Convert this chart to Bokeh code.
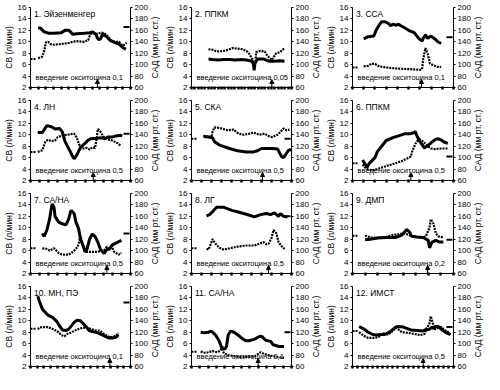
import math
from bokeh.plotting import figure
from bokeh.layouts import column, row
from bokeh.models import Range1d, LinearAxis, FixedTicker, Label, Arrow, NormalHead
from bokeh.embed import file_html
from bokeh.resources import INLINE

FONT = "Liberation Sans"

titles = ["1. Эйзенменгер", "2. ППКМ", "3. ССА", "4. ЛН", "5. СКА", "6. ППКМ",
          "7. СА/НА", "8. ЛГ", "9. ДМП", "10. МН, ПЭ", "11. СА/НА", "12. ИМСТ"]
doses = ["0,1", "0,05", "0,1", "0,5", "0,5", "0,5", "0,5", "0,5", "0,2", "0,1", "0,1", "0,5"]
t_max = [13, 30, 9, 11, 10, 9, 11, 10, 8, 15, 12, 20]
t_inj = [8.7, 24.1, 6.15, 6.9, 7.1, 5.2, 8.4, 7.7, 5.95, 11.9, 8.0, 14.0]
cv_base = [7.0, None, 5.5, 7.0, 9.3, 5.0, 6.4, 6.4, 8.6, 8.6, 4.6, 8.2]
sad_base = [166, None, 148, 142, 133, 102, 130, 160, 119, 172, 120, 129]

cv_ticks = [2, 4, 6, 8, 10, 12, 14, 16]
sad_ticks = [60, 80, 100, 120, 140, 160, 180, 200]

# Panel 1
t_sad_1 = [1.0,1.3,1.7,2.3,3.0,4.0,4.5,5.0,5.5,6.0,7.0,7.7,8.1,8.5,8.8,9.1,9.4,9.8,10.3,10.9,11.5,12.0,12.4]
sad_1 = [164,164,158,155,155,156,160,160,153,154,155,156,157,153,144,145,154,150,143,139,136,130,127]
t_cv_1 = [1.0,1.5,1.8,2.0,2.3,2.6,3.0,4.0,5.0,5.5,6.0,7.0,7.5,7.8,8.2,8.7,9.2,9.6,10.0,10.5,11.0,11.5,12.0,12.5]
cv_1 = [7.1,7.4,8.5,9.9,10.0,9.6,9.5,9.6,9.8,10.0,10.1,10.0,10.3,11.4,11.5,11.4,11.6,11.5,11.0,10.2,10.0,10.0,9.3,9.8]
# Panel 2
t_sad_2 = [5.1,6.3,8.0,9.7,11.4,13.1,14.8,16.5,18.2,18.6,18.8,19.0,19.4,19.9,21.6,22.4,23.2,24.9,26.6,27.9]
sad_2 = [110,109,108,109,109,108,109,108,106,100,90,102,106,110,110,108,106,106,107,106]
t_cv_2 = [5.1,6.3,7.6,9.7,11.0,12.3,13.9,15.2,16.5,17.3,18.2,18.8,19.2,19.4,20.7,22.0,22.8,24.1,25.4,26.6,27.9]
cv_2 = [8.7,8.6,8.3,8.4,8.6,8.9,8.8,8.7,8.4,7.9,7.0,5.6,6.5,8.2,8.4,8.3,7.5,6.8,8.0,8.2,8.9]
# Panel 3
t_sad_3 = [1.0,1.4,1.9,2.1,2.4,2.6,2.9,3.2,3.4,3.6,3.9,4.1,4.3,4.6,5.1,5.5,5.9,6.2,6.3,6.5,6.7,7.0,7.4,7.6,7.9]
sad_3 = [145,149,150,160,170,175,175,172,168,171,169,171,168,165,159,156,146,141,146,152,146,150,144,140,137]
t_cv_3 = [1.0,1.4,1.7,2.0,2.4,3.0,4.1,5.2,6.0,6.2,6.3,6.5,6.7,6.9,7.2,7.6,7.9]
cv_3 = [5.7,5.8,6.2,6.1,5.7,5.5,5.3,5.2,5.1,5.2,7.0,8.9,7.9,6.2,5.9,5.6,5.6]
# Panel 4
t_sad_4 = [0.8,1.3,1.8,2.3,2.7,3.2,3.5,3.8,4.3,4.6,4.8,5.1,5.5,6.0,6.3,6.6,7.3,7.9,8.2,8.5,9.0,9.4,9.9,10.1]
sad_4 = [144,144,156,154,150,151,145,128,113,103,98,105,118,125,130,133,134,135,133,136,136,138,139,138]
t_cv_4 = [0.8,1.3,1.6,1.9,2.3,2.7,3.0,3.5,4.1,4.8,5.1,5.3,5.5,5.8,6.2,6.5,6.8,7.1,7.3,7.4,7.6,8.0,8.5,9.0,9.6,9.9]
cv_4 = [7.0,7.3,8.7,9.1,8.9,9.0,9.6,9.9,10.0,10.2,9.5,8.5,7.8,7.6,7.7,7.4,7.8,7.7,9.5,11.0,10.8,9.7,9.2,9.0,8.5,8.1]
# Panel 5
t_sad_5 = [1.2,1.7,2.1,2.3,2.8,3.8,4.6,5.5,6.2,6.6,7.0,8.1,8.6,8.7,9.0,9.2,9.4,9.7,10.0]
sad_5 = [137,136,135,128,122,116,112,110,110,112,116,116,115,112,102,100,105,113,114]
t_cv_5 = [1.2,1.7,2.0,2.1,2.3,2.8,3.6,4.2,4.7,5.2,5.8,6.2,6.8,7.3,7.8,8.1,8.6,8.9,9.2,9.5,9.8]
cv_5 = [9.8,9.7,9.6,10.5,11.3,11.2,10.8,10.9,10.2,10.0,10.2,10.4,10.0,10.2,9.7,9.6,10.0,10.5,11.1,10.8,10.9]
# Panel 6
t_sad_6 = [0.9,1.3,1.5,2.0,2.2,2.6,3.0,3.6,4.1,4.7,5.2,5.5,5.6,5.7,6.0,6.3,6.4,6.7,7.0,7.4,7.6,7.9,8.2,8.5]
sad_6 = [96,83,90,100,110,120,130,135,138,142,142,144,146,140,128,120,117,121,126,132,133,131,127,125]
t_cv_6 = [0.9,1.1,1.4,1.8,2.2,2.8,3.3,3.8,4.4,4.9,5.2,5.3,5.6,5.8,6.0,6.3,6.7,7.0,7.4,7.9,8.5]
cv_6 = [4.8,4.3,3.9,3.8,4.0,4.4,4.7,5.0,5.4,5.9,6.2,7.0,8.4,9.0,9.2,8.8,8.0,7.6,7.5,7.6,7.6]
# Panel 7
t_sad_7 = [1.3,1.5,1.8,2.1,2.3,2.4,2.6,2.7,3.1,3.5,3.9,4.2,4.4,4.5,4.8,5.0,5.3,5.5,5.8,6.0,6.2,6.5,6.8,7.1,7.4,7.7,8.1,8.4,8.7,9.0,9.5,10.0]
sad_7 = [130,125,136,155,175,182,175,160,150,147,145,155,168,170,165,150,138,120,108,98,102,120,129,125,115,102,95,102,103,110,114,118]
t_cv_7 = [1.3,1.8,2.1,2.6,3.1,3.5,4.2,4.5,4.8,5.2,5.5,5.6,5.9,6.1,6.8,7.4,8.1,8.4,8.5,8.9,9.2,9.7,10.0]
cv_7 = [6.4,6.3,6.0,6.4,5.6,5.3,5.3,5.6,6.0,6.7,8.5,8.0,6.3,5.8,5.8,5.8,6.1,6.7,6.2,6.8,5.8,5.3,5.6]
# Panel 8
t_sad_8 = [1.5,1.8,2.1,2.5,3.2,3.5,4.1,4.6,5.2,5.8,6.3,6.9,7.5,7.9,8.3,8.7,8.9,9.2,9.6]
sad_8 = [161,163,168,176,176,174,170,168,165,162,159,163,165,163,166,160,165,160,159]
t_cv_8 = [1.5,1.7,1.8,2.0,2.1,2.4,2.8,3.2,3.8,4.6,5.5,6.3,6.9,7.2,7.5,7.7,8.0,8.2,8.5,8.7,9.0,9.3]
cv_8 = [6.3,6.2,6.6,7.5,8.0,7.2,6.5,6.2,6.4,6.7,6.9,6.9,7.3,7.5,7.1,7.2,8.2,9.6,9.0,7.5,6.8,6.3]
# Panel 9
t_sad_9 = [1.0,1.4,2.0,2.7,3.4,3.9,4.3,4.5,4.7,5.1,5.6,6.0,6.1,6.3,6.6,6.9,7.2]
sad_9 = [119,120,122,123,123,127,137,133,125,124,123,118,105,115,118,115,115]
t_cv_9 = [1.0,1.1,1.4,2.0,2.7,3.1,3.7,4.1,4.4,4.6,5.1,5.6,5.8,6.1,6.2,6.4,6.6,6.8,7.2]
cv_9 = [8.5,8.6,8.3,8.3,8.4,8.7,8.9,9.0,8.8,8.6,8.4,8.3,8.5,10.0,11.5,10.8,9.0,8.5,8.3]
# Panel 10
t_sad_10 = [1.1,1.3,1.8,2.2,2.6,3.3,4.0,4.4,4.8,5.3,5.7,6.2,6.6,7.0,7.5,7.9,8.4,8.8,9.3,10.1,11.0,11.7,12.3,12.8,13.0,13.2]
sad_10 = [183,175,160,155,150,146,138,130,124,123,125,132,138,141,140,135,129,123,121,119,114,110,110,111,114,112]
t_cv_10 = [1.1,1.3,1.8,2.6,3.5,4.2,4.6,5.1,5.5,6.2,7.0,7.9,8.8,9.7,10.4,11.0,11.9,12.6,13.0,13.2]
cv_10 = [8.5,8.8,8.9,8.9,8.5,8.0,7.5,7.3,7.7,8.0,8.5,8.8,8.7,8.3,8.3,7.7,7.1,7.3,7.6,7.9]
# Panel 11
t_sad_11 = [1.1,1.5,2.0,2.4,2.5,2.9,3.3,3.6,4.0,4.2,4.4,4.7,5.1,5.5,6.0,6.5,6.9,7.6,8.2,8.5,8.9,9.5,9.8,10.5,11.1]
sad_11 = [120,119,120,122,120,115,105,94,90,95,115,122,120,116,110,105,105,108,113,112,106,104,98,95,95]
t_cv_11 = [1.1,1.6,2.0,2.5,3.1,3.5,3.6,3.9,4.4,5.1,5.8,6.9,7.6,8.0,8.3,8.7,9.5,10.2,11.1]
cv_11 = [4.6,4.4,4.5,4.7,4.5,4.8,5.2,4.3,4.0,3.8,3.7,3.7,3.8,4.2,4.5,4.2,3.9,3.7,3.5]
# Panel 12
t_sad_12 = [1.3,2.2,3.1,4.0,4.9,5.5,6.4,7.3,8.0,8.6,9.2,10.1,11.0,11.6,12.8,14.0,14.3,15.2,15.8,16.1,16.4,17.0,17.6,18.2,18.8,19.4]
sad_12 = [130,126,120,116,115,116,116,120,125,129,130,129,126,124,123,122,124,125,129,126,130,130,125,121,118,116]
t_cv_12 = [1.3,2.2,3.1,4.3,5.2,6.1,7.0,8.0,8.6,9.2,9.8,11.0,12.2,13.4,14.3,14.6,15.2,15.5,15.9,16.4,17.0,17.6,18.2,18.8,19.4]
cv_12 = [8.0,7.4,7.0,7.0,7.2,7.8,7.6,8.2,8.8,8.4,8.0,7.9,7.7,7.5,7.7,8.6,9.4,10.8,9.6,8.5,8.8,8.9,8.4,8.1,7.6]

series = [
    (t_sad_1, sad_1, t_cv_1, cv_1), (t_sad_2, sad_2, t_cv_2, cv_2), (t_sad_3, sad_3, t_cv_3, cv_3),
    (t_sad_4, sad_4, t_cv_4, cv_4), (t_sad_5, sad_5, t_cv_5, cv_5), (t_sad_6, sad_6, t_cv_6, cv_6),
    (t_sad_7, sad_7, t_cv_7, cv_7), (t_sad_8, sad_8, t_cv_8, cv_8), (t_sad_9, sad_9, t_cv_9, cv_9),
    (t_sad_10, sad_10, t_cv_10, cv_10), (t_sad_11, sad_11, t_cv_11, cv_11), (t_sad_12, sad_12, t_cv_12, cv_12),
]

widths = [161, 161, 162]
STRIP = 11
H = 93
TOP, BOTTOM = 7, 6


def style(ax):
    ax.axis_line_color = "black"
    ax.axis_line_width = 1
    ax.major_tick_line_color = "black"
    ax.minor_tick_line_color = None
    ax.major_label_text_font = FONT
    ax.major_label_text_font_size = "8px"
    ax.major_label_text_color = "black"
    ax.axis_label_text_font = FONT
    ax.axis_label_text_font_size = "8.5px"
    ax.axis_label_text_font_style = "normal"
    ax.axis_label_text_color = "black"
    ax.major_label_standoff = 2
    ax.axis_label_standoff = 1
    ax.major_tick_in = 0
    ax.major_tick_out = 2


def make_panel(i, w):
    tmax = t_max[i]
    p = figure(width=w, height=H, output_backend="svg", toolbar_location=None,
               x_range=Range1d(0, tmax), y_range=Range1d(2, 16),
               x_axis_location=None, y_axis_location=None,
               min_border_left=22, min_border_right=16, min_border_top=TOP, min_border_bottom=BOTTOM)
    p.extra_y_ranges = {"sad": Range1d(60, 200)}
    p.grid.visible = False
    p.outline_line_color = None

    ly = LinearAxis(ticker=FixedTicker(ticks=cv_ticks), axis_label="СВ (л/мин)")
    style(ly)
    p.add_layout(ly, "left")
    ry = LinearAxis(y_range_name="sad", ticker=FixedTicker(ticks=sad_ticks))
    style(ry)
    p.add_layout(ry, "right")
    bx = LinearAxis(ticker=FixedTicker(ticks=[], minor_ticks=list(range(0, tmax + 1))))
    style(bx)
    bx.minor_tick_line_color = "black"
    bx.minor_tick_in = 1
    bx.minor_tick_out = 2
    bx.minor_tick_line_width = 2.5
    p.add_layout(bx, "below")

    ts, sad, tc, cv = series[i]
    p.line(tc, cv, line_color="black", line_width=2.2, line_dash="2 1")
    p.line(ts, sad, line_color="black", line_width=3, y_range_name="sad")

    if cv_base[i] is not None:
        p.line([0, tmax * 0.05], [cv_base[i], cv_base[i]], line_color="black",
               line_width=2, line_dash="2 1")
    if sad_base[i] is not None:
        p.line([tmax * 0.93, tmax * 0.99], [sad_base[i], sad_base[i]], line_color="black",
               line_width=2, y_range_name="sad")

    p.add_layout(Label(x=tmax * 0.035, y=14.8, text=titles[i], text_font=FONT,
                       text_font_size="8.5px", text_baseline="middle", text_color="black"))
    p.add_layout(Label(x=tmax * 0.05, y=3.8, text="введение окситоцина " + doses[i],
                       text_font=FONT, text_font_size="7.5px", text_baseline="middle",
                       text_color="black"))
    p.add_layout(Arrow(end=NormalHead(size=4, fill_color="black", line_color="black"),
                       x_start=t_inj[i], y_start=2, x_end=t_inj[i], y_end=3.4,
                       line_color="black", line_width=1))
    return p


def make_strip():
    s = figure(width=STRIP, height=H, output_backend="svg", toolbar_location=None,
               x_range=Range1d(0, 1), y_range=Range1d(2, 16),
               x_axis_location=None, y_axis_location=None,
               min_border_left=0, min_border_right=0, min_border_top=TOP, min_border_bottom=BOTTOM)
    s.grid.visible = False
    s.outline_line_color = None
    s.add_layout(Label(x=0.45, y=9, angle=math.pi / 2, text="САД (мм рт. ст.)",
                       text_font=FONT, text_font_size="8.5px", text_align="center",
                       text_baseline="middle", text_color="black"))
    return s


rows = []
for r in range(4):
    items = []
    for c in range(3):
        items.append(make_panel(r * 3 + c, widths[c] - STRIP))
        items.append(make_strip())
    rows.append(row(*items))
layout = column(*rows)

open("out.html", "w").write(file_html(layout, INLINE))
